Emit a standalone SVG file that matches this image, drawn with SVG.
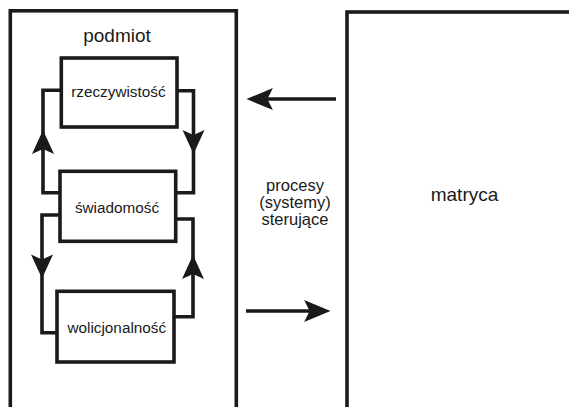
<svg xmlns="http://www.w3.org/2000/svg" xmlns:xlink="http://www.w3.org/1999/xlink" width="569" height="407" viewBox="0 0 569 407">
<defs>
<style>
.box{fill:#fff;stroke:#1a1a1a;stroke-width:3.6}
.ln{fill:none;stroke:#1a1a1a;stroke-width:3.6;stroke-linejoin:miter}
.ah{fill:#1a1a1a;stroke:none}
text{font-family:"Liberation Sans",Arial,sans-serif;fill:#1a1a1a;text-anchor:middle}
.lg{font-size:19px}
.md{font-size:15.3px}
.mid{font-size:16.5px}
</style>
<path id="ahUp" d="M0,0 L-11,24 L0,19 L11,24 Z"/>
</defs>
<rect width="569" height="407" fill="#fff"/>
<g id="podmiot">
<rect class="box" x="10.3" y="10.8" width="226" height="410"/>
<text class="lg" x="117" y="42">podmiot</text>
</g>
<g id="matryca">
<rect class="box" x="347" y="12" width="240" height="410"/>
<text class="lg" x="464.5" y="200.5">matryca</text>
</g>
<g id="connectors">
<path class="ln" d="M61.3,90.3 H43 V192.7 H60"/>
<use class="ah" xlink:href="#ahUp" transform="translate(43,130)"/>
<path class="ln" d="M177,90.8 H193.5 V192.7 H175.7"/>
<use class="ah" xlink:href="#ahUp" transform="translate(193.5,154) rotate(180)"/>
<path class="ln" d="M60,215 H42 V332.7 H57"/>
<use class="ah" xlink:href="#ahUp" transform="translate(42,278.5) rotate(180)"/>
<path class="ln" d="M174,316.7 H193 V219 H175.7"/>
<use class="ah" xlink:href="#ahUp" transform="translate(193,255)"/>
<path class="ln" d="M336,99 H255" stroke-width="4"/>
<use class="ah" xlink:href="#ahUp" transform="translate(246.5,99) rotate(-90) scale(1,1.1)"/>
<path class="ln" d="M246,311 H322" stroke-width="4"/>
<use class="ah" xlink:href="#ahUp" transform="translate(330.5,311) rotate(90) scale(1,1.1)"/>
</g>
<g id="rzeczywistosc">
<rect class="box" x="61.3" y="58" width="115.7" height="69"/>
<text class="md" x="118.4" y="97.3">rzeczywistość</text>
</g>
<g id="swiadomosc">
<rect class="box" x="60" y="171.3" width="115.7" height="70"/>
<text class="md" x="117" y="213.3">świadomość</text>
</g>
<g id="wolicjonalnosc">
<rect class="box" x="57" y="291.3" width="117" height="70.7"/>
<text class="md" x="116.8" y="332.7">wolicjonalność</text>
</g>
<g id="procesy">
<text class="mid" x="295" y="191"><tspan x="295">procesy</tspan><tspan x="295" dy="17">(systemy)</tspan><tspan x="295" dy="17">sterujące</tspan></text>
</g>
</svg>
